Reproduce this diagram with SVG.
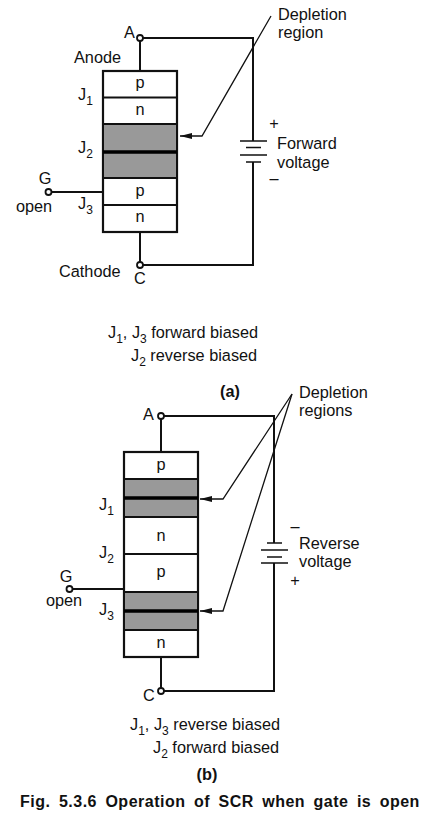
<svg xmlns="http://www.w3.org/2000/svg" width="432" height="828" viewBox="0 0 432 828">
<style>
text{font-family:"Liberation Sans",Arial,sans-serif;font-size:16.300px;fill:#111}
.s{font-size:12px}
.b{font-weight:bold}
.m{text-anchor:middle}
.w{fill:none;stroke:#111;stroke-width:2}
.t{fill:none;stroke:#111;stroke-width:1.300}
.p{fill:none;stroke:#111;stroke-width:1.600}
.k{fill:none;stroke:#000;stroke-width:3.400}
.box{fill:#fff;stroke:#111;stroke-width:2.200}
.g{fill:#999}
.c{fill:#fff;stroke:#111;stroke-width:1.800}
</style>
<defs>
<marker id="ah" markerUnits="userSpaceOnUse" markerWidth="12" markerHeight="6" refX="12" refY="3" orient="auto"><path d="M0 0L12 3L0 6z" fill="#111"/></marker>
</defs>
<rect width="432" height="828" fill="#fff"/>
<g id="connectors">
<path class="w" d="M140 38V71M140 232V265M143 38H253V141M253 162V265H143M51 192H103"/>
<path class="w" d="M161 416V452M161 657V691M164 416H274V543M274 563V691H164M73 589H124"/>
<path class="p" d="M240 141H267M246 147.500H261M240 155H267M246 162H261"/>
<path class="p" d="M267 543H282M261 550H288M267 557H282M261 563H288"/>
<path class="t" d="M271 16L202 136H180" marker-end="url(#ah)"/>
<path class="t" d="M292 394L223 499H200" marker-end="url(#ah)"/>
<path class="t" d="M292 394L223 611H200" marker-end="url(#ah)"/>
</g>
<g id="device-a">
<rect class="box" x="103" y="71" width="74" height="161"/>
<rect class="g" x="104" y="124" width="72" height="54"/>
<path class="w" d="M103 97.500H177M103 124H177M103 178H177M103 205H177"/>
<path class="k" d="M103 152H177"/>
<text class="m" x="140" y="88">p</text><text class="m" x="140" y="115">n</text>
<text class="m" x="140" y="196">p</text><text class="m" x="140" y="222">n</text>
</g>
<g id="device-b">
<rect class="box" x="124" y="452" width="74" height="205"/>
<rect class="g" x="125" y="479" width="72" height="38"/>
<rect class="g" x="125" y="592" width="72" height="38"/>
<path class="w" d="M124 479H198M124 517H198M124 554H198M124 592H198M124 630H198"/>
<path class="k" d="M124 498H198M124 611H198"/>
<text class="m" x="161" y="470">p</text><text class="m" x="161" y="541">n</text>
<text class="m" x="161" y="577">p</text><text class="m" x="161" y="648">n</text>
</g>
<g id="terminal-A1"><circle class="c" cx="140" cy="38" r="3"/><text x="124" y="38">A</text></g>
<g id="terminal-C1"><circle class="c" cx="140" cy="265" r="3"/><text class="m" x="140" y="284">C</text></g>
<g id="terminal-G1"><circle class="c" cx="48.500" cy="192" r="3"/><text class="m" x="45" y="184">G</text><text class="m" x="34" y="212">open</text></g>
<g id="terminal-A2"><circle class="c" cx="161" cy="416" r="3"/><text x="143" y="420">A</text></g>
<g id="terminal-C2"><circle class="c" cx="161" cy="691" r="3"/><text x="143" y="701">C</text></g>
<g id="terminal-G2"><circle class="c" cx="69.500" cy="589" r="3"/><text class="m" x="66" y="582">G</text><text class="m" x="64" y="606">open</text></g>
<g id="labels-a">
<text x="74" y="63">Anode</text><text x="59" y="277">Cathode</text>
<text x="78" y="100">J<tspan class="s" dy="5">1</tspan></text>
<text x="78" y="153">J<tspan class="s" dy="5">2</tspan></text>
<text x="78" y="209">J<tspan class="s" dy="5">3</tspan></text>
<text x="278" y="20">Depletion</text>
<text x="278" y="38">region</text>
<text class="m" x="274" y="128.500">+</text><text x="277" y="149">Forward</text><text x="277" y="168">voltage</text><text class="m" x="274" y="184">–</text>
<text x="108" y="338">J<tspan class="s" dy="5">1</tspan><tspan dy="-5">, J</tspan><tspan class="s" dy="5">3</tspan><tspan dy="-5"> forward biased</tspan></text>
<text x="131" y="361">J<tspan class="s" dy="5">2</tspan><tspan dy="-5"> reverse biased</tspan></text>
<text class="b m" x="230" y="397">(a)</text>
</g>
<g id="labels-b">
<text x="299" y="398">Depletion</text><text x="299" y="416">regions</text>
<text x="99" y="510">J<tspan class="s" dy="5">1</tspan></text>
<text x="99" y="558">J<tspan class="s" dy="5">2</tspan></text>
<text x="99" y="615">J<tspan class="s" dy="5">3</tspan></text>
<text class="m" x="295" y="532">–</text><text x="299" y="549">Reverse</text><text x="299" y="567">voltage</text><text class="m" x="295" y="585.500">+</text>
<text x="130" y="730">J<tspan class="s" dy="5">1</tspan><tspan dy="-5">, J</tspan><tspan class="s" dy="5">3</tspan><tspan dy="-5"> reverse biased</tspan></text>
<text x="153" y="753">J<tspan class="s" dy="5">2</tspan><tspan dy="-5"> forward biased</tspan></text>
<text class="b m" x="207" y="780">(b)</text>
<text class="b" x="20" y="807" style="font-size:16px;word-spacing:3.500px;letter-spacing:.5px">Fig. 5.3.6 Operation of SCR when gate is open</text>
</g>
</svg>
